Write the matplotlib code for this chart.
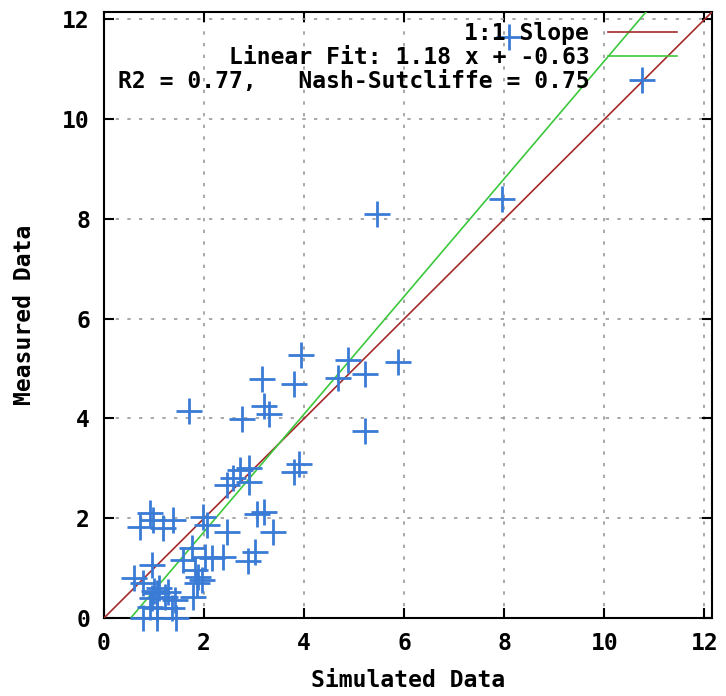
import numpy as np
import matplotlib
matplotlib.use('Agg')
import matplotlib.pyplot as plt

sim = [8.10, 7.95, 5.45, 5.88, 5.22, 5.22, 4.88, 4.68, 3.94, 3.80,
       3.16, 3.20, 3.30, 2.76, 1.70, 3.80, 3.90, 2.72, 2.90, 2.58,
       2.46, 2.90, 3.06, 3.20, 3.38, 2.46, 3.02, 2.88, 2.38, 2.16,
       0.92, 0.72, 0.98, 1.38, 1.18, 1.98, 2.06, 1.76, 2.02, 1.82,
       1.88, 1.96, 1.86, 1.78, 1.28, 1.42, 0.78, 1.06, 0.96, 1.22,
       0.92, 1.06, 1.36, 0.78, 1.06, 1.44, 0.96, 0.60, 1.58, 1.00,
       1.10]
meas = [11.65, 8.40, 8.10, 5.14, 4.90, 3.74, 5.18, 4.82, 5.28, 4.70,
        4.80, 4.25, 4.10, 3.98, 4.16, 2.92, 3.08, 2.97, 3.00, 2.80,
        2.67, 2.72, 2.08, 2.13, 1.73, 1.73, 1.33, 1.14, 1.22, 1.20,
        2.10, 1.83, 1.97, 1.97, 1.80, 2.03, 1.87, 1.40, 1.22, 0.96,
        0.82, 0.76, 0.70, 0.42, 0.52, 0.36, 0.70, 0.50, 0.40, 0.42,
        0.22, 0.20, 0.20, 0.00, 0.00, 0.00, 1.06, 0.80, 1.16, 0.55,
        0.60]

slope = 1.18
intercept = -0.63
r2 = 0.77
nse = 0.75
ticks = [0, 2, 4, 6, 8, 10, 12]
lim = 12.15

plt.rcParams['font.family'] = 'DejaVu Sans Mono'
plt.rcParams['font.weight'] = 'bold'
FS = 16.6

fig = plt.figure(figsize=(7.26, 6.96), dpi=100)
ax = fig.add_axes([104/726, 78/696, 608/726, 606/696])

xx = np.linspace(0, lim, 200)
ax.plot(xx, xx, color='#a52a2a', lw=1.2, label='1:1 Slope', zorder=3)
ax.plot(xx, slope*xx + intercept, color='#3cc83c', lw=1.2,
        label='Linear Fit: %.2f x + %.2f' % (slope, intercept), zorder=3)
ax.plot(sim, meas, ls='none', marker='+', ms=19, mew=2.0, color='#3a7bd5',
        label='R2 = %.2f,   Nash-Sutcliffe = %.2f' % (r2, nse),
        clip_on=False, zorder=4)

ax.set_xlim(0, lim)
ax.set_ylim(0, lim)
ax.set_xticks(ticks)
ax.set_yticks(ticks)
ax.tick_params(direction='in', length=7, width=1.5, top=True, right=True,
               labelsize=FS, pad=10)
ax.grid(True, color='#999999', linestyle=(0, (2, 5)), lw=1.2)
for s in ax.spines.values():
    s.set_linewidth(1.5)

ax.set_xlabel('Simulated Data', fontsize=FS, fontweight='bold', labelpad=10)
ax.set_ylabel('Measured Data', fontsize=FS, fontweight='bold', labelpad=19)

leg = ax.legend(loc='upper right', markerfirst=False, frameon=False,
                fontsize=FS, handlelength=3.0, handletextpad=0.8,
                labelspacing=0.05, borderaxespad=0.2, alignment='right',
                bbox_to_anchor=(0.965, 1.007))

plt.savefig('out.png', dpi=100)
